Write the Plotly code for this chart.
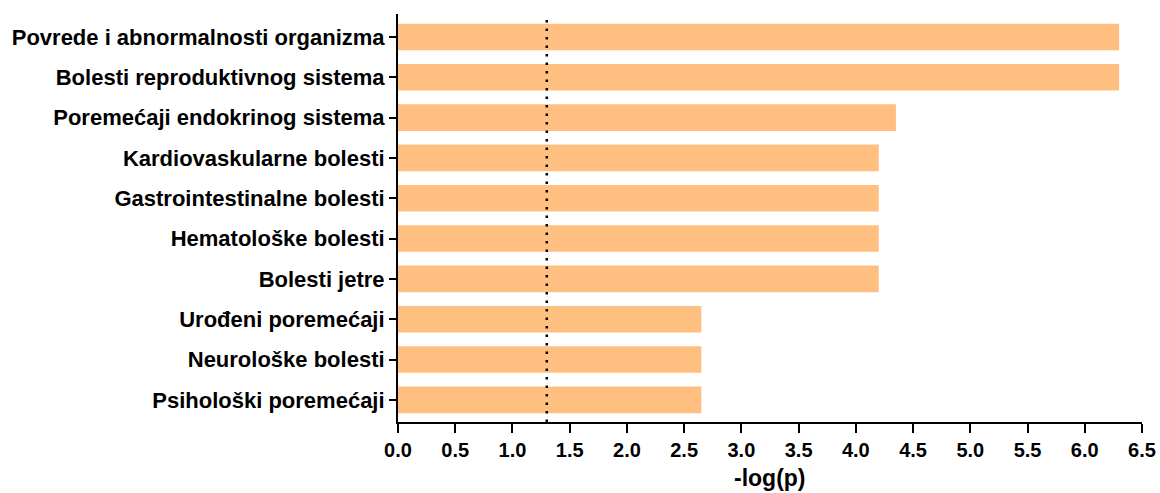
import plotly.graph_objects as go

# Disease categories (top to bottom) and their enrichment scores
categories = [
    "Povrede i abnormalnosti organizma",
    "Bolesti reproduktivnog sistema",
    "Poremećaji endokrinog sistema",
    "Kardiovaskularne bolesti",
    "Gastrointestinalne bolesti",
    "Hematološke bolesti",
    "Bolesti jetre",
    "Urođeni poremećaji",
    "Neurološke bolesti",
    "Psihološki poremećaji",
]
neg_log_p = [6.3, 6.3, 4.35, 4.2, 4.2, 4.2, 4.2, 2.65, 2.65, 2.65]
threshold = 1.3  # -log(0.05)
x_ticks = [0.0, 0.5, 1.0, 1.5, 2.0, 2.5, 3.0, 3.5, 4.0, 4.5, 5.0, 5.5, 6.0, 6.5]

positions = list(range(len(categories)))
font_family = "Liberation Sans, Arial, sans-serif"

fig = go.Figure()
fig.add_trace(go.Bar(
    x=neg_log_p,
    y=positions,
    orientation="h",
    marker=dict(color="#FFBF80", line=dict(width=0)),
    width=0.66,
    hoverinfo="x+text",
    text=categories,
    textposition="none",
))

# significance threshold line
fig.add_shape(
    type="line", xref="x", yref="paper",
    x0=threshold, x1=threshold, y0=0, y1=1,
    line=dict(color="black", width=2.5, dash="2.5px,6px"),
)

# x-axis title, placed below the tick labels
fig.add_annotation(
    text="<b>-log(p)</b>", xref="paper", yref="paper",
    x=0.5, y=0, yshift=-56, xanchor="center", yanchor="middle",
    showarrow=False, font=dict(size=23, family=font_family, color="black"),
)

fig.update_layout(
    width=1160, height=493,
    margin=dict(l=398, r=18, t=14, b=71),
    plot_bgcolor="white",
    paper_bgcolor="white",
    showlegend=False,
    font=dict(family=font_family, color="black"),
    xaxis=dict(
        range=[0, 6.5],
        automargin=False,
        tickvals=x_ticks,
        ticktext=[f"{v:.1f}" for v in x_ticks],
        ticks="outside", ticklen=9, tickwidth=2, tickcolor="black",
        showline=True, linecolor="black", linewidth=2,
        showgrid=False, zeroline=False,
        tickfont=dict(size=20, family=font_family, color="black", weight="bold"),
    ),
    yaxis=dict(
        range=[9.55, -0.57],
        automargin=False,
        tickvals=positions,
        ticktext=categories,
        ticks="outside", ticklen=7, tickwidth=2, tickcolor="black",
        showline=True, linecolor="black", linewidth=2,
        showgrid=False, zeroline=False,
        tickfont=dict(size=22, family=font_family, color="black", weight="bold"),
    ),
)

fig.write_html("out.html")
